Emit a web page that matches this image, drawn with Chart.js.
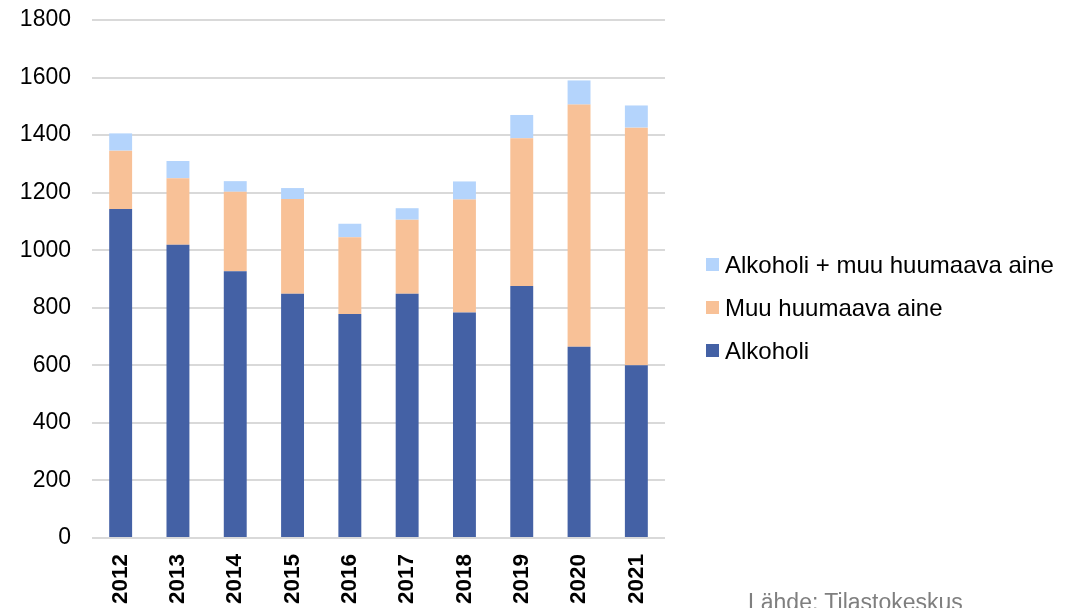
<!DOCTYPE html>
<html>
<head>
<meta charset="utf-8">
<script src="https://cdn.jsdelivr.net/npm/chart.js@4"></script>
<style>
  body { margin: 0; background: #fff; }
  #wrap { position: relative; width: 1076px; height: 608px; overflow: hidden; font-family: "Liberation Sans", Arial, sans-serif; }
  #legend { position: absolute; left: 706px; top: 243px; }
  .item { height: 43px; display: flex; align-items: center; font-size: 24px; color: #000; position: relative; }
  .box { width: 13px; height: 13px; margin-right: 6px; }
  #source { position: absolute; left: 748px; top: 589px; font-size: 23px; color: #7f7f7f; white-space: nowrap; }
</style>
</head>
<body>
<div id="wrap">
  <canvas id="mycanvas" width="1076" height="608"></canvas>
  <div id="legend"></div>
  <div id="source">Lähde: Tilastokeskus</div>
</div>
<script>
var years = ["2012", "2013", "2014", "2015", "2016", "2017", "2018", "2019", "2020", "2021"];
var alkoholi = [1143, 1019, 927, 849, 778, 849, 784, 876, 665, 600];
var muuAine = [203, 231, 276, 329, 267, 257, 392, 513, 841, 826];
var molemmat = [60, 60, 37, 38, 47, 40, 63, 81, 84, 77];
var seriesNames = ["Alkoholi", "Muu huumaava aine", "Alkoholi + muu huumaava aine"];
var seriesColors = ["#4461a5", "#f8c197", "#b4d4fc"];
var yTicks = [0, 200, 400, 600, 800, 1000, 1200, 1400, 1600, 1800];

var chartdata = {
  labels: years,
  datasets: [
    { label: seriesNames[0], data: alkoholi, backgroundColor: seriesColors[0] },
    { label: seriesNames[1], data: muuAine, backgroundColor: seriesColors[1] },
    { label: seriesNames[2], data: molemmat, backgroundColor: seriesColors[2] }
  ]
};

// legend in reverse order (top of stack first)
var legend = document.getElementById("legend");
for (var i = seriesNames.length - 1; i >= 0; i--) {
  var row = document.createElement("div");
  row.className = "item";
  row.innerHTML = '<span class="box" style="background:' + seriesColors[i] + '"></span>' + seriesNames[i];
  legend.appendChild(row);
}

var ctx = document.getElementById("mycanvas");
var chart = new Chart(ctx, {
  type: "bar",
  data: chartdata,
  options: {
    responsive: false,
    animation: false,
    layout: { padding: { top: 20, right: 411, bottom: 0, left: 0 } },
    plugins: { legend: { display: false }, tooltip: { enabled: false } },
    datasets: { bar: { categoryPercentage: 1, barPercentage: 0.4 } },
    scales: {
      x: {
        stacked: true,
        grid: { display: false, drawTicks: false },
        border: { display: false },
        ticks: {
          color: "#000",
          font: { family: "'Liberation Sans', Arial, sans-serif", size: 22.5, weight: "bold" },
          minRotation: 90,
          maxRotation: 90,
          padding: 16
        },
        afterFit: function(scale) { scale.height = 70; scale.paddingLeft = 0; scale.paddingRight = 0; }
      },
      y: {
        stacked: true,
        min: yTicks[0],
        max: yTicks[yTicks.length - 1],
        ticks: {
          stepSize: 200,
          color: "#000",
          font: { family: "'Liberation Sans', Arial, sans-serif", size: 23 },
          padding: 21,
          callback: function(value) { return String(value); }
        },
        grid: { color: "#d9d9d9", lineWidth: 2, drawTicks: false },
        border: { display: false },
        afterFit: function(scale) { scale.width = 92; scale.paddingTop = 0; scale.paddingBottom = 0; }
      }
    }
  }
});
</script>
</body>
</html>
